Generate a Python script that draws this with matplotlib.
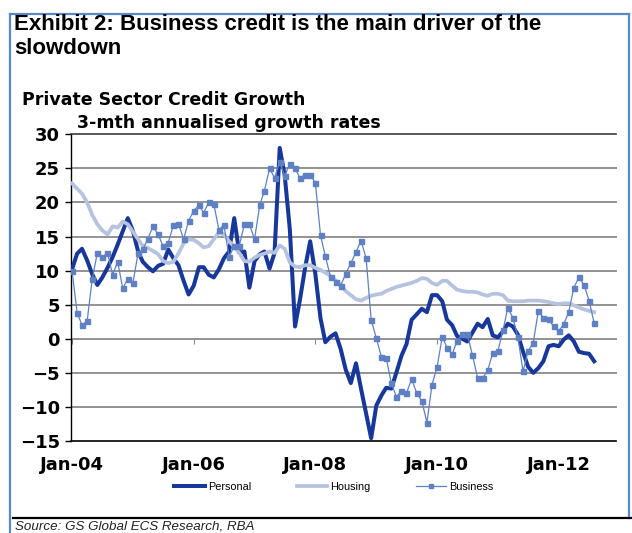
import numpy as np
import pandas as pd
import matplotlib
matplotlib.use("Agg")
import matplotlib.pyplot as plt
from matplotlib.lines import Line2D

# monthly, Jan-04 .. Aug-12 (3-mth annualised growth, %)
months = pd.date_range("2004-01-01", periods=104, freq="MS")

personal = [
    10.2, 12.5, 13.2, 11.5, 9.5, 7.9, 9.0, 10.4, 12.0, 13.8, 15.8, 17.7,
    15.8, 12.8, 11.3, 10.5, 9.9, 10.7, 11.0, 13.1, 11.8, 10.8, 8.5, 6.5,
    7.8, 10.5, 10.5, 9.4, 9.0, 10.2, 11.8, 12.8, 17.7, 12.6, 12.8, 7.5,
    11.4, 12.4, 12.8, 10.3, 12.6, 28.0, 24.0, 16.0, 1.8, 5.8, 10.5, 14.3,
    9.5, 3.0, -0.5, 0.3, 0.8, -1.5, -4.5, -6.5, -3.6, -7.3, -11.0, -14.6,
    -9.8, -8.3, -7.2, -7.3, -5.0, -2.5, -0.8, 2.8, 3.6, 4.4, 3.9, 6.4,
    6.4, 5.5, 2.8, 2.0, 0.4, 0.0, -0.4, 0.9, 2.2, 1.7, 2.9, 0.5,
    0.2, 1.1, 2.2, 1.8, 0.6, -1.9, -4.1, -5.0, -4.3, -3.3, -1.1, -0.9,
    -1.1, -0.1, 0.5, -0.4, -1.9, -2.1, -2.2, -3.3,
]

housing = [
    22.8, 22.0, 21.3, 20.0, 18.2, 16.8, 15.9, 15.3, 16.5, 16.3, 17.2, 16.8,
    15.7, 14.6, 13.6, 13.3, 12.9, 12.4, 11.4, 11.1, 11.3, 12.5, 14.0, 14.6,
    14.5, 14.0, 13.4, 13.6, 14.6, 15.6, 15.3, 14.3, 13.5, 12.6, 11.4, 11.3,
    11.9, 12.3, 12.5, 12.8, 12.6, 13.7, 13.2, 11.2, 10.6, 10.5, 10.8, 10.8,
    10.4, 10.1, 9.7, 9.2, 8.6, 7.9, 7.0, 6.4, 5.8, 5.6, 6.0, 6.3,
    6.5, 6.6, 7.0, 7.3, 7.6, 7.8, 8.0, 8.2, 8.5, 8.9, 8.8, 8.2,
    7.9, 8.5, 8.5, 7.8, 7.2, 7.0, 6.9, 6.9, 6.8, 6.5, 6.3, 6.6,
    6.6, 6.4, 5.6, 5.5, 5.5, 5.5, 5.6, 5.6, 5.6, 5.5, 5.4, 5.2,
    5.1, 5.2, 5.2, 4.9, 4.6, 4.3, 4.1, 3.9,
]

business = [
    10.0, 3.8, 2.0, 2.6, 8.7, 12.6, 12.0, 12.6, 9.4, 11.3, 7.4, 8.8,
    8.2, 12.6, 13.1, 14.7, 16.5, 15.3, 13.6, 14.1, 16.7, 16.9, 14.6, 17.3,
    18.8, 19.6, 18.5, 20.0, 19.8, 16.0, 16.7, 12.0, 13.6, 13.6, 16.8, 16.8,
    14.6, 19.6, 21.7, 25.0, 23.6, 26.0, 23.9, 25.7, 25.0, 23.6, 24.1, 24.0,
    22.9, 15.2, 12.1, 9.1, 8.4, 7.8, 9.5, 11.1, 12.7, 14.4, 11.8, 2.8,
    0.1, -2.7, -2.8, -6.5, -8.5, -7.7, -8.0, -5.9, -8.0, -9.1, -12.3, -6.8,
    -4.1, 0.3, -1.3, -2.3, -0.3, 0.7, 0.7, -2.4, -5.7, -5.8, -4.6, -2.1,
    -1.8, 1.3, 4.5, 3.1, 0.2, -4.8, -1.8, -0.6, 4.1, 3.1, 2.9, 1.8,
    1.1, 2.2, 3.9, 7.5, 9.0, 7.9, 5.6, 2.3,
]

tick_dates = pd.to_datetime(["2004-01-01", "2006-01-01", "2008-01-01", "2010-01-01", "2012-01-01"])
tick_labels = ["Jan-04", "Jan-06", "Jan-08", "Jan-10", "Jan-12"]
y_ticks = list(range(-15, 31, 5))

PERSONAL_COLOR = "#17389a"
HOUSING_COLOR = "#b6c3df"
BUSINESS_COLOR = "#5f81c4"
FRAME_COLOR = "#5a8ac6"

W, H = 632, 533
fig = plt.figure(figsize=(W / 100, H / 100), dpi=100)


def fx(px):
    return px / W


def fy(py):
    return 1 - py / H


ax = fig.add_axes([fx(71), fy(441), fx(616.5) - fx(71), fy(134.3) - fy(441)])

ax.plot(months, personal, color=PERSONAL_COLOR, lw=2.9, label="Personal", zorder=3,
        solid_joinstyle="round")
ax.plot(months, housing, color=HOUSING_COLOR, lw=2.7, label="Housing", zorder=4,
        solid_joinstyle="round")
ax.plot(months, business, color=BUSINESS_COLOR, lw=0.9, marker="s", ms=3.6,
        mec=BUSINESS_COLOR, mfc=BUSINESS_COLOR, label="Business", zorder=5)

ax.set_ylim(-15, 30)
ax.set_yticks(y_ticks)
ax.set_xlim(pd.Timestamp("2003-12-26"), pd.Timestamp("2012-12-13"))
ax.set_xticks(tick_dates)
ax.set_xticklabels(tick_labels)

# horizontal gridlines
for v in y_ticks[1:-1]:
    ax.axhline(v, color="#8a8a8a", lw=1.3, zorder=1)
ax.vlines(tick_dates, -0.8, 0, color="#8a8a8a", lw=0.8, zorder=1)

ax.spines["right"].set_visible(False)
ax.spines["top"].set_color("#3a3a3a")
ax.spines["top"].set_linewidth(1.2)
ax.spines["bottom"].set_color("black")
ax.spines["bottom"].set_linewidth(1.2)
ax.spines["left"].set_color("black")
ax.spines["left"].set_linewidth(1.0)

ax.tick_params(axis="y", length=4, width=1, pad=4, labelsize=13)
ax.tick_params(axis="x", length=0, pad=11, labelsize=13)
for lab in ax.get_xticklabels() + ax.get_yticklabels():
    lab.set_fontweight("bold")
    lab.set_fontfamily("DejaVu Sans")

# titles
fig.text(fx(14), fy(30), "Exhibit 2: Business credit is the main driver of the",
         family="Liberation Sans", weight="bold", fontsize=16, va="baseline")
fig.text(fx(14), fy(53.5), "slowdown",
         family="Liberation Sans", weight="bold", fontsize=16, va="baseline")
fig.text(fx(22), fy(105), "Private Sector Credit Growth",
         family="DejaVu Sans", weight="bold", fontsize=12.5, va="baseline")
fig.text(fx(77), fy(128.5), "3-mth annualised growth rates",
         family="DejaVu Sans", weight="bold", fontsize=12.5, va="baseline")

leg = fig.legend(loc="center", bbox_to_anchor=(fx(334), fy(487)), ncol=3, frameon=False,
                 prop={"family": "Liberation Sans", "size": 7.8}, handlelength=2.8,
                 handletextpad=0.3, columnspacing=4.2, numpoints=1, markerscale=0.8)

# frame and source line
fig.add_artist(Line2D([fx(10), fx(10)], [fy(13.5), 0], color=FRAME_COLOR, lw=1.6))
fig.add_artist(Line2D([fx(10), fx(629)], [fy(13.5), fy(13.5)], color=FRAME_COLOR, lw=1.6))
fig.add_artist(Line2D([fx(629), fx(629)], [fy(13.5), fy(518)], color=FRAME_COLOR, lw=1.6))
fig.add_artist(Line2D([fx(12.5), 1], [fy(518.3), fy(518.3)], color="black", lw=1.6))
fig.text(fx(15), fy(520.5), "Source: GS Global ECS Research, RBA", family="Liberation Sans",
         style="italic", fontsize=9.6, va="top", color="#222222")

fig.savefig("out.png", dpi=100)
